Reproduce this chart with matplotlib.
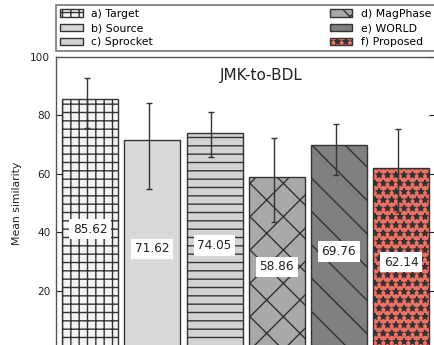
import matplotlib

matplotlib.use("Agg")
import matplotlib.pyplot as plt
import numpy as np

# mean similarity per system, with the upper / lower ends of the error bars
labels = ["a) Target", "b) Source", "c) Sprocket", "d) MagPhase", "e) WORLD", "f) Proposed"]
means = [85.62, 71.62, 74.05, 58.86, 69.76, 62.14]
err_high = [92.9, 84.4, 81.1, 72.3, 77.1, 75.5]
err_low = [75.6, 54.8, 65.9, 43.7, 59.7, 47.1]
title = "JMK-to-BDL"

colors = ["#f4f4f4", "#d9d9d9", "#d3d3d3", "#a9a9a9", "#808080", "#ef7163"]
hatches = ["++", "", "--", "x", "\\", "**"]

plt.rcParams["hatch.linewidth"] = 1.0

fig = plt.figure(figsize=(4.34, 3.45), dpi=100)
ax = fig.add_axes([0.129, -0.013, 0.874, 0.848])

x = np.arange(len(means))
bars = ax.bar(x, means, width=0.9, color=colors, edgecolor="#333333",
              linewidth=1.0, label=labels)
for bar, h in zip(bars, hatches):
    bar.set_hatch(h)

yerr = [np.array(means) - np.array(err_low), np.array(err_high) - np.array(means)]
ax.errorbar(x - 0.05, means, yerr=yerr, fmt="none", ecolor="#333333",
            elinewidth=1.0, capsize=2, capthick=1.0)

# value boxes sit a little below the middle of each bar
for xi, m in zip(x, means):
    ax.text(xi, m * 0.48, f"{m:.2f}", ha="center", va="center", fontsize=8.7,
            color="#222222",
            bbox=dict(boxstyle="square,pad=0.3", facecolor="white", edgecolor="none"))

ax.text(2.75, 93.5, title, ha="center", va="center", fontsize=11, color="#222222")

ax.set_xlim(-0.55, 5.55)
ax.set_ylim(0, 100)
ax.set_yticks([20, 40, 60, 80, 100])
ax.set_xticks([])
ax.tick_params(axis="y", direction="in", length=4, width=0.8, labelsize=7.6,
               right=True, pad=4, colors="#222222")
ax.set_ylabel("Mean similarity", fontsize=7.8, color="#222222", labelpad=6)
for sp in ax.spines.values():
    sp.set_color("#555555")
    sp.set_linewidth(1.0)

leg = ax.legend(bbox_to_anchor=(0, 1.02, 1, 0.1), loc="lower left", ncol=2,
                mode="expand", borderaxespad=0, fontsize=7.8, fancybox=False,
                handlelength=2.1, handletextpad=0.8, labelspacing=0.38,
                borderpad=0.35)
leg.get_frame().set_edgecolor("#555555")
leg.get_frame().set_linewidth(1.2)

fig.savefig("out.png", dpi=100)
